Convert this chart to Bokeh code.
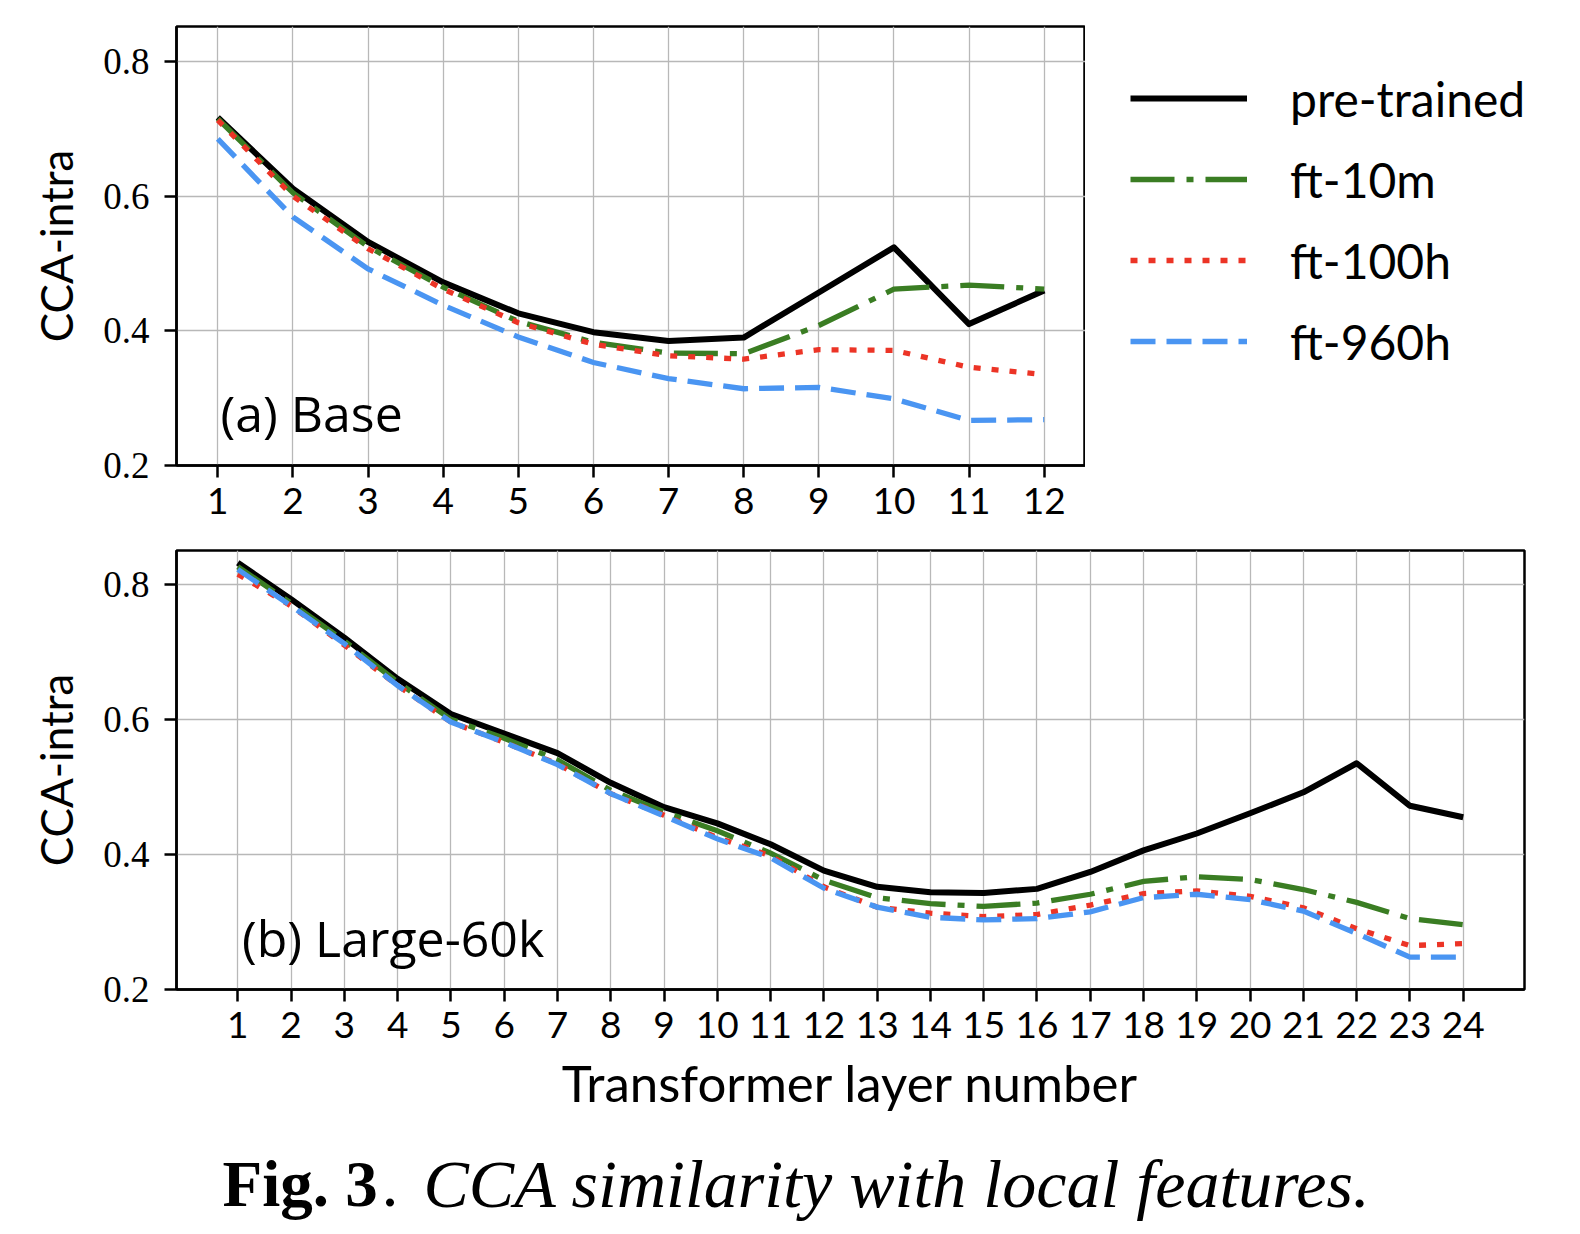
from bokeh.plotting import figure
from bokeh.layouts import column, row
from bokeh.models import Range1d, Legend, LegendItem, Label, FixedTicker
from bokeh.core.properties import value
from bokeh.embed import file_html
from bokeh.resources import INLINE

# ---------------- data ----------------
layers_base = [1, 2, 3, 4, 5, 6, 7, 8, 9, 10, 11, 12]
base_pretrained = [0.717, 0.611, 0.532, 0.472, 0.426, 0.398, 0.385, 0.390, 0.457, 0.524, 0.410, 0.460]
base_ft10m = [0.715, 0.605, 0.525, 0.465, 0.414, 0.383, 0.367, 0.366, 0.408, 0.462, 0.468, 0.462]
base_ft100h = [0.713, 0.600, 0.522, 0.462, 0.412, 0.380, 0.363, 0.358, 0.372, 0.371, 0.346, 0.335]
base_ft960h = [0.685, 0.569, 0.492, 0.438, 0.391, 0.353, 0.329, 0.314, 0.316, 0.299, 0.267, 0.268]

layers_large = list(range(1, 25))
large_pretrained = [0.832, 0.778, 0.721, 0.660, 0.608, 0.579, 0.550, 0.506, 0.470, 0.446, 0.415, 0.376,
                    0.352, 0.344, 0.343, 0.349, 0.374, 0.406, 0.431, 0.461, 0.492, 0.535, 0.472, 0.455]
large_ft10m = [0.826, 0.772, 0.716, 0.655, 0.600, 0.572, 0.540, 0.495, 0.463, 0.435, 0.402, 0.362,
               0.336, 0.327, 0.323, 0.328, 0.341, 0.360, 0.367, 0.363, 0.348, 0.329, 0.305, 0.296]
large_ft100h = [0.815, 0.768, 0.710, 0.650, 0.596, 0.566, 0.534, 0.490, 0.458, 0.425, 0.398, 0.352,
                0.322, 0.313, 0.308, 0.311, 0.325, 0.342, 0.346, 0.338, 0.321, 0.290, 0.265, 0.268]
large_ft960h = [0.822, 0.768, 0.712, 0.650, 0.596, 0.566, 0.533, 0.490, 0.457, 0.423, 0.395, 0.350,
                0.322, 0.307, 0.303, 0.305, 0.315, 0.336, 0.341, 0.333, 0.316, 0.283, 0.248, 0.248]

series_names = ["pre-trained", "ft-10m", "ft-100h", "ft-960h"]
y_ticks = [0.2, 0.4, 0.6, 0.8]

colors = ["#000000", "#3a7d23", "#ec3426", "#4a95f2"]
dashes = ["solid", "44 12 7 12", "7 11", "25 11"]

SANS = "Lato"
SERIF = "Liberation Serif"


def style(p, xticks):
    p.outline_line_color = "black"
    p.outline_line_width = 2.5
    p.xgrid.ticker = FixedTicker(ticks=xticks)
    p.ygrid.ticker = FixedTicker(ticks=y_ticks)
    for g in (p.xgrid, p.ygrid):
        g.grid_line_color = "#b8b8b8"
        g.grid_line_width = 1.3
    p.xaxis.ticker = FixedTicker(ticks=xticks)
    p.yaxis.ticker = FixedTicker(ticks=y_ticks)
    p.yaxis.major_label_overrides = {t: f"{t:.1f}" for t in y_ticks}
    for ax in (p.xaxis[0], p.yaxis[0]):
        ax.axis_line_color = "black"
        ax.axis_line_width = 2.5
        ax.major_tick_in = 0
        ax.major_tick_out = 12
        ax.major_tick_line_width = 2.5
        ax.major_tick_line_color = "black"
        ax.minor_tick_line_color = None
        ax.major_label_text_color = "black"
        ax.axis_label_text_color = "black"
    p.xaxis.major_label_text_font = SANS
    p.xaxis.major_label_text_font_size = "37px"
    p.xaxis.major_label_standoff = 10
    p.yaxis.major_label_text_font = SERIF
    p.yaxis.major_label_text_font_size = "37px"
    p.yaxis.major_label_standoff = 15
    p.yaxis.axis_label = "CCA-intra"
    p.yaxis.axis_label_text_font = SANS
    p.yaxis.axis_label_text_font_size = "44px"
    p.yaxis.axis_label_text_font_style = "normal"
    p.yaxis.axis_label_standoff = 18


def draw(p, xs, ys_list):
    rs = []
    for ys, c, d in zip(ys_list, colors, dashes):
        r = p.line(xs, ys, line_color=c, line_width=6 if c == "#000000" else 5.3,
                   line_dash=d, line_join="round" if d == "solid" else "miter",
                   line_cap="butt")
        rs.append(r)
    return rs


base_series = [base_pretrained, base_ft10m, base_ft100h, base_ft960h]

# ---------------- top panel ----------------
top = figure(width=1085, height=530, output_backend="svg", toolbar_location=None,
             x_range=Range1d(0.45, 12.55), y_range=Range1d(0.2, 0.852),
             min_border_left=176, min_border_right=0, min_border_top=26, min_border_bottom=65)
style(top, layers_base)
draw(top, layers_base, base_series)
top.add_layout(Label(x=1.036, y=0.2774, text="(a) Base", text_font="Open Sans", text_color="black",
                     text_font_size="50px", text_baseline="alphabetic", text_align="left"))

# ---------------- legend (own canvas to the right of the top panel) ----------------
# the series are drawn here outside the visible range; only their legend samples show
legfig = figure(width=495, height=530, output_backend="svg", toolbar_location=None,
                x_range=Range1d(100, 101), y_range=Range1d(100, 101),
                min_border_left=0, min_border_right=0, min_border_top=23, min_border_bottom=0)
legfig.axis.visible = False
legfig.grid.visible = False
legfig.outline_line_color = None
leg_renderers = draw(legfig, layers_base, base_series)
legend = Legend(items=[LegendItem(label=n, renderers=[r]) for n, r in zip(series_names, leg_renderers)],
                location="top_left", glyph_width=117, glyph_height=60, label_height=60,
                label_standoff=43, spacing=21, padding=0, margin=45,
                label_text_font=SANS, label_text_font_size="48px", label_text_color="black",
                border_line_color=None, background_fill_alpha=0)
legfig.add_layout(legend, "center")

# ---------------- bottom panel ----------------
bot = figure(width=1580, height=590, output_backend="svg", toolbar_location=None,
             x_range=Range1d(-0.15, 25.15), y_range=Range1d(0.2, 0.85),
             min_border_left=176, min_border_right=56, min_border_top=20, min_border_bottom=131)
style(bot, layers_large)
draw(bot, layers_large, [large_pretrained, large_ft10m, large_ft100h, large_ft960h])
bot.xaxis.axis_label = "Transformer layer number"
bot.xaxis.axis_label_text_font = SANS
bot.xaxis.axis_label_text_font_size = "51px"
bot.xaxis.axis_label_text_font_style = "normal"
bot.xaxis.axis_label_standoff = 11
bot.add_layout(Label(x=1.08, y=0.276, text="(b) Large-60k", text_font="Open Sans", text_color="black",
                     text_font_size="50px", text_baseline="alphabetic", text_align="left"))

# ---------------- caption ----------------
cap = figure(width=1580, height=114, output_backend="svg", toolbar_location=None,
             x_range=Range1d(0, 1580), y_range=Range1d(0, 114),
             min_border=0)
cap.axis.visible = False
cap.grid.visible = False
cap.outline_line_color = None
cap.text(x=[222], y=[51], text=["Fig. 3"], text_font=value(SERIF), text_font_size="65px",
         text_font_style="bold", text_baseline="alphabetic", text_align="left", text_color="black")
cap.text(x=[381], y=[51], text=["."], text_font=value(SERIF), text_font_size="68px",
         text_baseline="alphabetic", text_align="left", text_color="black")
cap.text(x=[423], y=[51], text=["CCA similarity with local features."], text_font=value(SERIF),
         text_font_size="68px", text_font_style="italic", text_baseline="alphabetic",
         text_align="left", text_color="black")

layout = column(row(column(top), column(legfig), spacing=0), row(bot), row(cap), spacing=0)
open("out.html", "w").write(file_html(layout, INLINE))
